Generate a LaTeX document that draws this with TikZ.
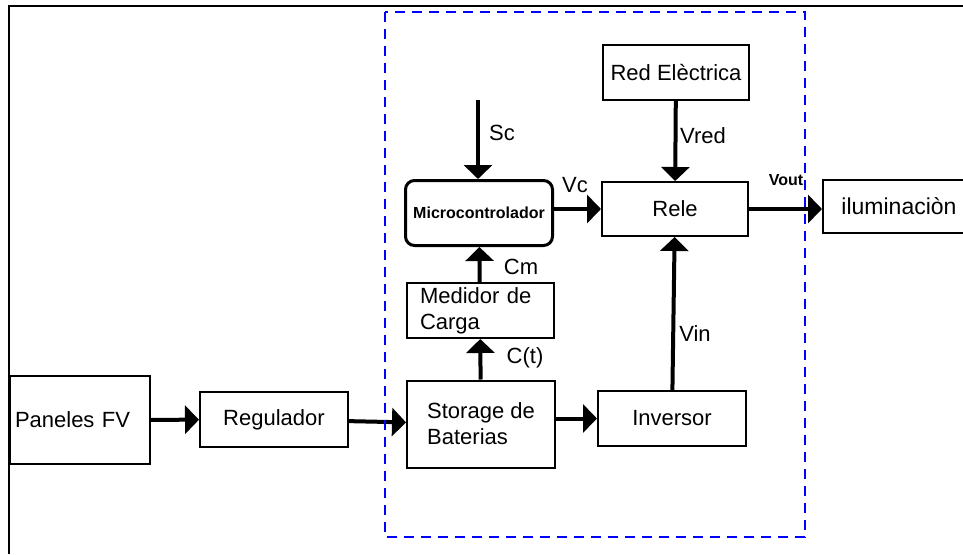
\documentclass[tikz,border=0pt]{standalone}
\usepackage{fontspec}
\setmainfont{Liberation Sans}
\usetikzlibrary{arrows.meta, positioning}
\definecolor{controlblue}{RGB}{0,0,255}

\begin{document}
\begin{tikzpicture}[x=1pt, y=-1pt, font=\fontsize{22}{26}\selectfont]
		% Styles for blocks and signals
		\tikzset{bloque/.style={draw, line width=2pt, inner sep=0pt, minimum width=148pt, minimum height=55pt}}
		\tikzset{senal/.style={line width=4pt, -{Triangle[length=14pt, width=28pt]}}}
		\tikzset{etiq/.style={inner sep=0pt}}
		\useasboundingbox (0,0) rectangle (963,554);
		
		% Outer frame
		\draw[line width=2pt] (9,554) -- (9,6) -- (963,6);
		
		% Power chain
		\node[bloque, minimum width=140pt, minimum height=88pt, text width=130pt, inner xsep=5pt, align=left] (pan) at (80,420) {Paneles FV};
		\node[bloque] (reg) at (274,419.5) {Regulador};
		\node[bloque, minimum height=87pt, align=left] (stor) at (481,424) {Storage de\\Baterias};
		\node[bloque, align=left] (inv) at (672,418.5) {Inversor};
		
		% Control blocks
		\node[bloque, minimum width=147pt, text width=120pt, inner xsep=13.5pt, align=left] (med) at (480,310.5) {Medidor de\\Carga};
		\node[bloque, minimum width=147pt, minimum height=65pt, line width=3pt, rounded corners=9pt,
			font=\fontsize{16}{18}\selectfont\bfseries] (micro) at (479,213) {Microcontrolador};
		\node[bloque, minimum width=146pt, minimum height=54pt] (rele) at (675,209) {Rele};
		\node[bloque, minimum width=146pt] (red) at (676,72.5) {Red El\`ectrica};
		\node[bloque, minimum width=152pt, minimum height=53pt, font=\fontsize{23}{26}\selectfont] (ilum) at (899,206.5) {iluminaci\`on};
		\coordinate (sc) at (478,100);
		
		% Signals
		\draw[senal] (pan) -- (reg);
		\draw[senal] (reg) -- (stor);
		\draw[senal] (stor.east |- inv.west) -- (inv.west);
		\draw[senal] (stor) -- (med);
		\draw[senal] (med) -- (micro);
		\draw[senal] (sc) -- (sc |- micro.north);
		\draw[senal] (micro.east |- rele.west) -- (rele.west);
		\draw[senal] (red) -- (rele);
		\draw[senal] (inv) -- (rele);
		\draw[senal] (rele.east) -- (rele.east -| ilum.west);
		
		% Signal names
		\node[etiq] (lsc) at (502,133) {Sc};
		\node[etiq] (lvred) at (703,136) {Vred};
		\node[etiq] (lvc) at (575,185) {Vc};
		\node[etiq, font=\fontsize{16}{18}\selectfont\bfseries] (lvout) at (786,180) {Vout};
		\node[etiq] (lcm) at (521,266.5) {Cm};
		\node[etiq] (lct) at (525,358) {C(t)};
		\node[etiq] (lvin) at (695,333.5) {Vin};
		
		% Control unit boundary
		\draw[controlblue, line width=2.5pt, dash pattern=on 10pt off 7pt] (385,12) rectangle (805,537);
	\end{tikzpicture}
\end{document}
